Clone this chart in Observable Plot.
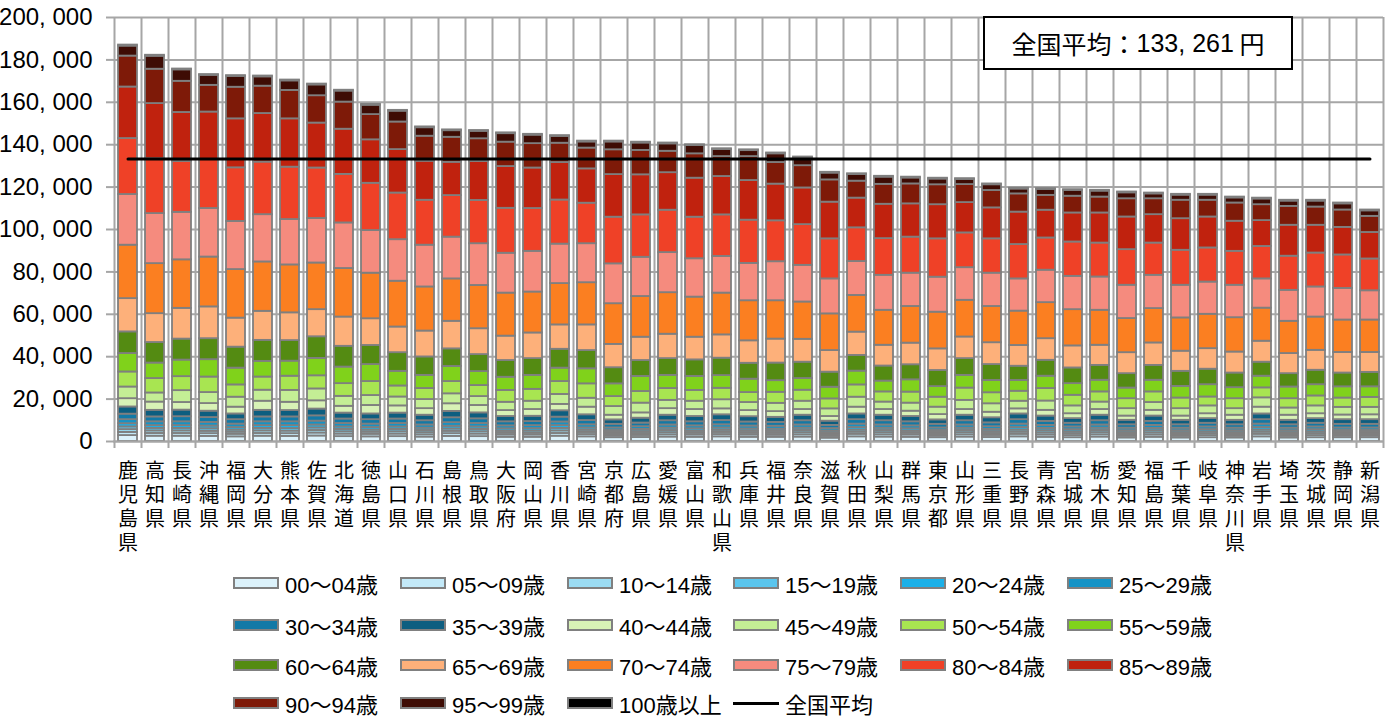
<!DOCTYPE html>
<html><head><meta charset="utf-8">
<script src="https://cdn.jsdelivr.net/npm/d3@7"></script>
<script src="https://cdn.jsdelivr.net/npm/@observablehq/plot@0.6"></script>
<style>
html,body{margin:0;padding:0;background:#fff;overflow:hidden;}
body{font-family:"Noto Sans CJK JP",sans-serif;color:#000;}
#wrap{position:relative;width:1399px;height:717px;}
#avgbox{position:absolute;left:983px;top:16px;width:306px;height:50px;border:2px solid #000;background:#fff;
  display:flex;align-items:center;justify-content:center;font-size:25px;white-space:pre;}
.num{font-family:"Liberation Sans","Noto Sans CJK JP",sans-serif;}
.nar{font-family:"Liberation Sans Narrow","Liberation Sans","Noto Sans CJK JP",sans-serif;}
#legend{position:absolute;left:0;top:0;width:1399px;height:717px;pointer-events:none;}
.item{position:absolute;display:flex;align-items:center;font-size:22px;height:30px;white-space:nowrap;}
.sw{width:42px;height:8px;border:2px solid #808080;margin-right:6px;box-sizing:content-box;}
.ln{width:46px;height:3px;background:#000;margin-right:6px;}
</style>
</head><body>
<div id="wrap"><div id="chart"></div><div id="avgbox"></div><div id="legend"></div></div>
<script>
const prefs = ["鹿児島県","高知県","長崎県","沖縄県","福岡県","大分県","熊本県","佐賀県","北海道","徳島県",
"山口県","石川県","島根県","鳥取県","大阪府","岡山県","香川県","宮崎県","京都府","広島県",
"愛媛県","富山県","和歌山県","兵庫県","福井県","奈良県","滋賀県","秋田県","山梨県","群馬県",
"東京都","山形県","三重県","長野県","青森県","宮城県","栃木県","愛知県","福島県","千葉県",
"岐阜県","神奈川県","岩手県","埼玉県","茨城県","静岡県","新潟県"];

const ages = ["00～04歳","05～09歳","10～14歳","15～19歳","20～24歳","25～29歳","30～34歳","35～39歳",
"40～44歳","45～49歳","50～54歳","55～59歳","60～64歳","65～69歳","70～74歳","75～79歳",
"80～84歳","85～89歳","90～94歳","95～99歳","100歳以上"];

const colors = ["#dcf2fb","#c3e9f8","#9bdcf3","#5ac5ed","#1bb0e8","#1593c6","#1379a6","#0d5e80",
"#d8f2b6","#c4ee95","#a8e551","#80d21b","#548b12","#fdb07a","#fb7f21","#f58b7e",
"#ef4127","#c0220e","#7e1a08","#3e0c04","#000000"];

const yTicks = [0,20000,40000,60000,80000,100000,120000,140000,160000,180000,200000];
const nationalAverage = 133261;

const v00 = [2800,2500,2500,2400,2200,2500,2400,2600,2300,2200,2300,2100,2400,2300,2000,2000,2500,2200,1800,1900,2100,2000,2200,2000,2000,2100,1600,2200,2100,2000,1800,2100,1900,2200,2000,1800,2100,1700,2000,1700,1800,1700,2200,1700,1800,1800,1800];
const v05 = [1500,1300,1300,1300,1200,1300,1300,1400,1200,1200,1200,1100,1300,1200,1100,1100,1300,1100,900,1000,1100,1100,1100,1100,1000,1100,900,1200,1100,1100,900,1100,1000,1200,1100,1000,1100,900,1100,900,1000,900,1200,900,1000,900,900];
const v10 = [1300,1200,1200,1100,1000,1200,1200,1200,1100,1000,1100,1000,1100,1100,900,900,1200,1000,800,900,1000,900,1000,900,900,1000,800,1000,1000,900,800,1000,900,1000,1000,900,1000,800,1000,800,900,800,1000,800,900,800,800];
const v15 = [1300,1200,1200,1200,1000,1200,1200,1200,1100,1000,1100,1000,1100,1100,900,1000,1200,1000,800,900,1000,900,1000,900,900,1000,800,1000,1000,900,800,1000,900,1000,1000,900,1000,800,1000,800,900,800,1000,800,900,800,800];
const v20 = [1500,1300,1300,1300,1200,1300,1400,1400,1200,1200,1200,1100,1300,1200,1100,1100,1300,1100,900,1000,1100,1100,1100,1000,1000,1100,900,1200,1100,1100,900,1100,1000,1200,1100,1000,1100,900,1100,900,1000,900,1200,900,1000,900,900];
const v25 = [1900,1800,1800,1700,1600,1800,1800,1800,1600,1600,1600,1500,1700,1600,1400,1400,1700,1500,1200,1300,1500,1400,1500,1400,1400,1500,1100,1600,1500,1400,1200,1500,1300,1600,1400,1300,1500,1200,1400,1200,1300,1200,1600,1200,1300,1200,1200];
const v30 = [2600,2300,2400,2300,2100,2300,2300,2500,2100,2100,2100,2000,2300,2200,1900,1900,2300,2000,1700,1700,2000,1900,2000,1900,1800,2000,1500,2100,2000,1900,1700,2000,1800,2100,1900,1700,2000,1600,1900,1600,1700,1600,2100,1600,1700,1700,1700];
const v35 = [3400,3100,3100,3000,2700,3100,3000,3200,2800,2700,2800,2600,3000,2800,2500,2500,3000,2700,2100,2300,2600,2500,2700,2500,2400,2600,2000,2700,2600,2500,2100,2600,2400,2700,2500,2200,2600,2100,2500,2100,2200,2100,2700,2100,2200,2200,2200];
const v40 = [3900,3900,3600,3600,3200,4300,3900,3900,3200,4000,3400,3100,3600,3500,2800,3200,3000,3600,2200,2500,3100,3300,2800,2900,2700,2700,2200,3200,2700,2500,2500,2700,2600,2400,2700,2300,2700,2000,2700,2000,2300,2400,3200,2400,2300,2200,2300];
const v45 = [5500,4300,5600,5200,4700,5200,5600,5600,4700,4700,4200,4300,4700,4200,3900,3900,4700,4200,4100,4600,3900,3900,4300,3800,3900,3900,3600,4700,3500,3800,3500,4300,4000,3600,4400,3700,3500,3500,3700,3500,3700,3100,4400,3400,3700,3600,3500];
const v50 = [7100,6800,6600,7300,5800,6200,6700,6200,6000,6600,5200,5200,5800,5200,5600,5600,6100,6800,4700,5500,5600,5100,5400,4700,5200,5200,4700,5800,4800,5200,4700,5800,5200,4700,5900,5000,4800,4700,5000,5000,4200,4700,4700,4400,4700,4400,4700];
const v55 = [8700,7300,7800,8200,7900,7400,7100,8200,7800,8000,6900,6200,7100,6600,6200,6600,6300,7100,6000,7100,6200,6600,6000,6300,5500,5500,5500,6500,5100,5800,5000,6000,5800,5100,5800,5500,5500,5000,5500,5500,5800,5200,5500,5500,5300,5300,5000];
const v60 = [10200,9700,9900,9900,9900,9900,9700,10200,9800,9000,8800,8700,8300,8000,7900,7900,8900,8600,7600,7500,7900,7800,8200,7500,8300,7700,7100,7400,7100,7100,7600,7900,7500,6700,7500,7400,7000,6800,7000,7100,7300,6900,6600,6300,6800,6500,6800];
const v65 = [15700,13600,14500,15000,13700,13700,13100,12800,13800,12600,12100,12200,13000,12200,11500,12100,11500,12100,11000,11000,11500,10700,11000,10600,11300,10800,10200,11000,9800,10200,10200,10200,10300,9800,10200,10400,9500,9900,10600,9500,9700,9900,9900,9500,9400,9700,9400];
const v70 = [25200,23600,22900,23500,22900,23300,22600,22000,22900,21500,21600,20800,20000,20400,20300,19300,19500,19900,19200,19200,19600,18900,19700,18900,18100,17600,17300,17300,16500,17300,17300,17300,17100,16200,17000,17100,16500,16100,16200,15700,16200,16200,15600,15200,15700,15300,15300];
const v75 = [23900,23600,22400,22900,22700,22300,21400,21000,21500,20100,19600,19700,19700,19700,18800,19200,18600,18400,18800,18500,18900,18100,17300,17600,18400,17300,16500,16000,16500,15700,16500,15400,15700,15200,15300,15700,15700,15700,15700,15400,15200,15300,13800,14600,14200,14900,13800];
const v80 = [26400,25900,24000,23100,25300,24800,24700,23800,22900,22300,22000,21200,19600,20400,21200,20200,20800,19100,22000,20000,20000,19600,19600,20400,19300,19200,18900,15900,17300,17000,18100,16400,16200,16200,15200,16200,16000,16800,15200,16500,16100,16000,15300,16100,16000,15800,15000];
const v85 = [24300,26000,23100,22400,23100,22900,22800,21200,21300,20500,20500,18400,15700,18400,19700,19100,17700,16200,20100,18900,17700,18400,18100,18700,17300,17300,17300,14000,16200,15700,16100,14300,14600,15300,13100,13700,14200,15400,13400,14900,14600,14200,12200,14600,13100,13000,12500];
const v90 = [14600,16200,14700,12600,14900,12900,13400,12900,12800,11900,13000,11800,11800,10700,11500,11500,9100,9800,11700,11500,10100,11500,9400,11300,10200,10500,10500,8000,9400,9400,9400,8500,8200,8600,7000,7900,7500,8600,7500,8700,7900,8600,7500,8900,8600,8200,7600];
const v95 = [4700,6100,5400,4700,5100,4400,4500,5100,5200,4400,5100,4000,3100,3500,4000,4000,3200,2900,3700,3500,3500,3900,3300,2800,4100,3700,3200,3100,3400,2800,2700,2400,2700,2300,2800,2700,2800,2800,2300,2400,2400,2400,2700,2500,2800,2900,2600];
const v100 = [500,500,400,400,400,400,400,400,400,400,400,400,400,400,400,400,400,400,400,400,400,400,400,400,400,400,400,400,400,400,400,400,400,400,400,400,400,400,400,400,400,400,400,400,400,400,400];

const series = [v00,v05,v10,v15,v20,v25,v30,v35,v40,v45,v50,v55,v60,v65,v70,v75,v80,v85,v90,v95,v100];

const table = [];
prefs.forEach((p, i) => ages.forEach((a, j) => table.push({pref: p, age: a, value: series[j][i]})));

const fmt = d => d3.format(",")(d).replace(/,/g, ", ");
const gridColor = "#a6a6a6";

const chart = Plot.plot({
  width: 1399, height: 560,
  marginLeft: 113, marginRight: 16, marginTop: 17, marginBottom: 119,
  style: {fontFamily: '"Noto Sans CJK JP", sans-serif', fontSize: "22px", color: "#000", background: "transparent", overflow: "visible"},
  x: {domain: prefs, paddingInner: 0.3, paddingOuter: 0.15, axis: null, label: null},
  y: {domain: [0, 200000], axis: null, label: null},
  color: {domain: ages, range: colors},
  marks: [
    Plot.gridY(yTicks, {stroke: gridColor, strokeOpacity: 1, strokeWidth: 2}),
    Plot.ruleX(prefs, {x: d => d, dx: -13.5, stroke: gridColor, strokeWidth: 2, insetBottom: -7}),
    Plot.ruleX([prefs[prefs.length - 1]], {x: d => d, dx: 13.5, stroke: gridColor, strokeWidth: 2, insetBottom: -7}),
    Plot.barY(table, {x: "pref", y: "value", fill: "age", stroke: "#7f7f7f", strokeWidth: 1.8}),
    Plot.ruleY([0], {stroke: gridColor, strokeWidth: 2}),
    Plot.lineY(prefs, {x: d => d, y: () => nationalAverage, stroke: "#000", strokeWidth: 3}),
    Plot.axisY(yTicks, {anchor: "left", label: null, tickSize: 7, tickPadding: 14, stroke: gridColor, strokeWidth: 2,
      tickFormat: fmt, fontSize: 24, fontFamily: '"Liberation Sans Narrow","Liberation Sans",sans-serif'}),
    Plot.axisX({anchor: "bottom", label: null, tickSize: 0, tickPadding: 19, tickFormat: d => d.split("").join("\n"),
      fontSize: 20, lineHeight: 1.21})
  ]
});
document.getElementById("chart").appendChild(chart);

// average box
const box = document.getElementById("avgbox");
box.innerHTML = '全国平均：<span class="num">' + fmt(nationalAverage) + '</span> 円';

// legend
const legend = d3.select("#legend");
const colX = [233, 400, 567, 733, 900, 1067];
const rowY = [583, 625, 665, 703];
ages.forEach((a, i) => {
  const it = legend.append("div").attr("class", "item")
    .style("left", colX[i % 6] + "px").style("top", (rowY[Math.floor(i / 6)] - 15) + "px");
  it.append("div").attr("class", "sw").style("background", colors[i]);
  it.append("span").attr("class", "nar").text(a);
});
const li = legend.append("div").attr("class", "item")
  .style("left", colX[3] + "px").style("top", (rowY[3] - 15) + "px");
li.append("div").attr("class", "ln");
li.append("span").text("全国平均");
</script>
</body></html>
